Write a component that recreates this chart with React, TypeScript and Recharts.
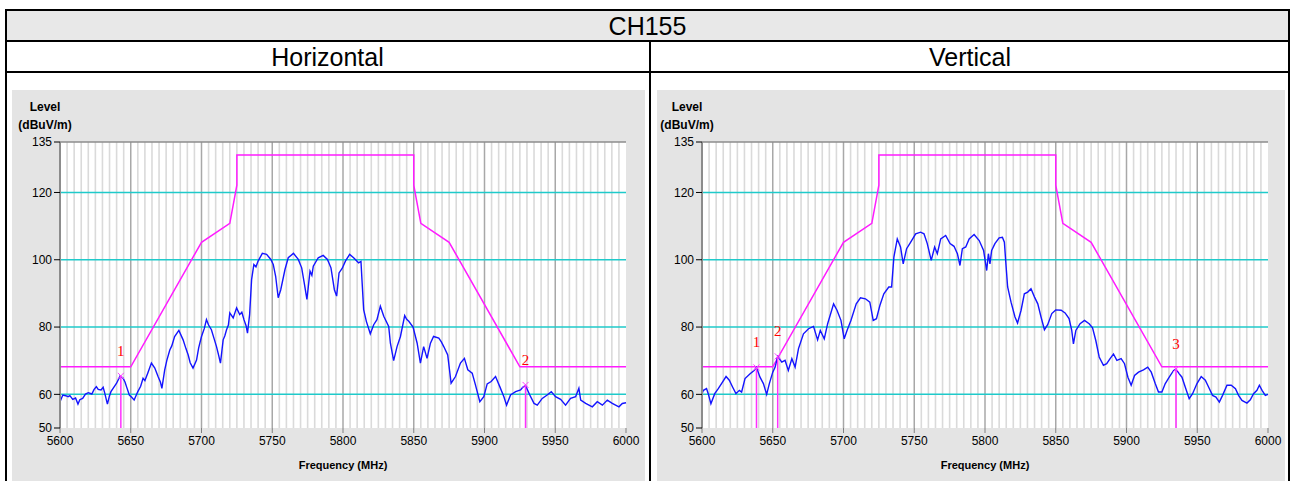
import React from "react";
import { ComposedChart, Line, XAxis, YAxis, ReferenceLine, Scatter, CartesianGrid } from "recharts";

const FONT = "Arial, 'Liberation Sans', Helvetica, sans-serif";

const freqTicks = [5600, 5650, 5700, 5750, 5800, 5850, 5900, 5950, 6000];
const levelTicks = [50, 60, 80, 100, 120, 135];
const levelGrid = [60, 80, 100, 120];

// limit mask (dBuV/m), same for both polarisations
const limitMask: [number, number][] = [
  [5600, 68.2], [5650, 68.2], [5700, 105.2], [5720, 110.8], [5725, 122.2], [5725, 131.1],
  [5850, 131.1], [5850, 122.2], [5855, 110.8], [5875, 105.2], [5925, 68.2], [6000, 68.2],
];

const horizTrace: [number, number][] = [
  [5600, 57.8], [5602, 59.8], [5604, 59.6], [5605.7, 59.3], [5607, 59.6], [5609, 58.5], [5611, 58.9], [5612.7, 57.1],
  [5614, 58.4], [5616, 58.8], [5618, 60.1], [5620, 60.5], [5622.5, 60.1], [5624, 61.4], [5625.7, 62.3], [5627, 61.5],
  [5629, 61.3], [5630.5, 62.1], [5631.5, 60.6], [5633.5, 57.1], [5635, 59.6], [5636, 60.8], [5638, 62.1], [5640, 63.3],
  [5642.5, 65.5], [5644.6, 64.8], [5646, 63.6], [5647, 62.3], [5649, 59.8], [5650.5, 59.2], [5652.4, 58.3], [5654, 59.9],
  [5655, 60.8], [5657, 62.4], [5658.7, 64.8], [5660, 64.1], [5662, 66.3], [5664.6, 69.3], [5667, 67.8], [5669.3, 65.3],
  [5671, 63.6], [5672, 61.8], [5674, 67.3], [5675.5, 70.1], [5677.6, 73.2], [5679, 74.4], [5681, 77.2], [5684, 79],
  [5687, 76.2], [5689, 73.6], [5690.6, 71.7], [5692, 69.4], [5694, 67.8], [5696.5, 70.2], [5698, 73.8], [5700, 77.2],
  [5702, 79.6], [5703.5, 82.2], [5705, 80.6], [5707, 79.2], [5709, 76.4], [5710.6, 74.2], [5712, 71.8], [5713.4, 69.3],
  [5715.3, 76.2], [5716.5, 77.4], [5717.7, 79.2], [5719, 80.6], [5720, 84.2], [5722.4, 82.7], [5724.8, 85.7], [5727, 83.7],
  [5728.5, 84.4], [5730, 82.2], [5731.5, 80.4], [5732.5, 78.2], [5734, 83.7], [5735.4, 94.1], [5737, 98.6], [5738.5, 97.9],
  [5740, 99.6], [5743, 101.9], [5746, 101.6], [5749, 100.1], [5750.7, 98.6], [5752.4, 95.1], [5754.2, 88.7], [5756, 91.1],
  [5759, 97.1], [5761.3, 100.6], [5765, 101.9], [5768.4, 100.1], [5770.8, 97.6], [5772.6, 93.1], [5774.5, 88.2], [5775.5, 92.1],
  [5776.7, 96.6], [5778, 95.4], [5779, 98.1], [5782.5, 100.6], [5786, 101.3], [5789, 100.1], [5791.5, 97.6], [5793.9, 91.1],
  [5795.5, 89.2], [5797.2, 96.1], [5799.5, 97.5], [5801.7, 99.6], [5804.7, 101.6], [5807.5, 100.6], [5811, 99.1], [5812.7, 99.5],
  [5813.4, 94.1], [5814.6, 85.2], [5816.5, 81.7], [5819.3, 78], [5821.7, 80.7], [5824, 82.2], [5826.4, 86.2], [5828.8, 83.2],
  [5832.3, 80.2], [5833.5, 75.2], [5835.8, 70], [5838.2, 74.2], [5840.6, 77.2], [5843.6, 83.4], [5845, 82.3], [5846.5, 81.7],
  [5849.5, 80], [5852.4, 75.2], [5854.7, 69.3], [5857, 74.2], [5859.4, 70.7], [5861.8, 75.2], [5864, 77.2], [5867.7, 76.7],
  [5869.5, 75.6], [5871.2, 74.2], [5874, 71.7], [5876.4, 63.3], [5879.5, 65.3], [5883, 69.3], [5885.8, 70.7], [5888.2, 67.3],
  [5891.3, 66.3], [5893.6, 62.8], [5896.7, 57.8], [5899.5, 59.3], [5901.9, 63.1], [5904.7, 63.8], [5907.8, 65.3], [5910.8, 62.3],
  [5913.7, 59.3], [5915.6, 56.8], [5918.4, 59.8], [5922, 60.8], [5925.5, 61.3], [5927, 62.1], [5929, 62.6], [5932, 59.8],
  [5935, 57.3], [5937.3, 56.8], [5940.8, 58.8], [5944.3, 59.8], [5947.2, 60.8], [5950.2, 59.3], [5953.8, 58.5], [5957.3, 56.8],
  [5960.8, 58.8], [5964.4, 59.3], [5966.7, 61.8], [5968, 58.3], [5971.5, 57.3], [5976.2, 56.3], [5979.7, 57.8], [5983.3, 56.8],
  [5986.8, 58.3], [5990.3, 57.3], [5995, 56.3], [5997.4, 57.3], [6000, 57.5],
];

const vertTrace: [number, number][] = [
  [5600, 60.2], [5601, 61.2], [5603.2, 61.7], [5604.4, 60.2], [5606.3, 57.2], [5609, 60.2], [5611.5, 61.7], [5613.8, 63.2],
  [5617, 65.3], [5619.3, 64.2], [5621.6, 62.2], [5624, 60.2], [5626.4, 61.2], [5628, 60.7], [5630.4, 64.7], [5634, 66.1],
  [5636.8, 67.1], [5638.5, 68], [5641, 65.1], [5643.4, 63.2], [5645.7, 60], [5647.6, 63.2], [5650, 66.6], [5651.7, 68.1],
  [5653.5, 71.3], [5656.4, 69.6], [5658.7, 70.1], [5661, 67.1], [5663.5, 70.6], [5665.8, 68.1], [5668.2, 73.6], [5671.7, 78],
  [5675.3, 79.5], [5678.8, 80.2], [5681.7, 76.2], [5683.6, 79], [5686.4, 76.5], [5688.8, 81], [5693, 86.9], [5695.4, 85],
  [5698.2, 82], [5700.5, 76.5], [5702.5, 79], [5705.3, 82], [5709, 86.9], [5712, 88.7], [5715.5, 88.4], [5718.6, 87.4],
  [5721, 82], [5723.3, 82.5], [5725.7, 86.4], [5728.5, 89.9], [5732, 91.9], [5734, 91.9], [5735.6, 100.8], [5738, 106.2],
  [5740.3, 103.8], [5742.2, 98.8], [5744.6, 103.3], [5747.4, 105.2], [5751, 107.7], [5754.5, 108.2], [5756.9, 107.7], [5759.2, 104.8],
  [5762, 99.8], [5764.4, 103.8], [5766.3, 101.8], [5768.7, 106.2], [5772.2, 107.2], [5775.3, 104.8], [5778.1, 104], [5780.5, 101.8],
  [5782.3, 98.3], [5784, 103.3], [5786.4, 103.8], [5788.8, 106.2], [5792.3, 107.5], [5795.9, 105.7], [5799, 102.8], [5801.2, 96.8],
  [5802.4, 101.8], [5803.5, 98.8], [5804.7, 102.8], [5807, 104.8], [5810, 106.5], [5812.3, 106.7], [5813.7, 105.2], [5814.6, 99.8],
  [5816, 91.9], [5818.4, 87.4], [5821.2, 83], [5823, 81.2], [5825.5, 85], [5827.8, 89.9], [5830.2, 90.4], [5832.5, 91.4],
  [5835, 88.9], [5837.3, 86.9], [5839.6, 83], [5842, 79.2], [5844.3, 80.7], [5847.2, 84], [5850, 85.1], [5853.8, 85],
  [5856.6, 84.2], [5859.4, 82.5], [5861.3, 79], [5862.5, 75], [5864.2, 79], [5867.2, 81], [5870.3, 82], [5873.6, 81],
  [5876, 79.8], [5878.3, 76], [5880.7, 71.1], [5883.7, 68.6], [5886, 69.1], [5888.4, 70.6], [5890.8, 72], [5893.2, 70.1],
  [5896.2, 70.6], [5898.6, 69.1], [5901, 65.1], [5903.3, 62.7], [5905.7, 65.6], [5908.5, 66.6], [5912, 67.3], [5915, 68.1],
  [5917.5, 66.6], [5920.3, 63.2], [5922.6, 60.7], [5925, 60.7], [5927.4, 63.2], [5930.2, 65.1], [5933.3, 67.1], [5935, 67.5],
  [5937.3, 66.1], [5939.2, 65.1], [5941.5, 62.2], [5944.3, 58.7], [5946.7, 60.2], [5949.8, 63.2], [5952.8, 65.3], [5955.7, 64.2],
  [5958, 62.2], [5960.8, 59.7], [5963.2, 59.2], [5965.6, 57.7], [5967.9, 59.7], [5971, 62.7], [5974, 62.7], [5977, 61.7],
  [5979.2, 59.7], [5981.6, 58.2], [5985.1, 57.4], [5987.5, 58.4], [5989.8, 60.2], [5992.2, 61.2], [5993.9, 62.7], [5995.8, 61.2],
  [5998.1, 59.7], [6000, 60],
];

const horizMarkers = [
  { f: 5643, v: 65.5, n: "1" },
  { f: 5929, v: 62.8, n: "2" },
];
const vertMarkers = [
  { f: 5638.5, v: 68, n: "1" },
  { f: 5653.5, v: 71.3, n: "2" },
  { f: 5935, v: 67.5, n: "3" },
];

// 5 MHz grid lines
const gridFreqs: number[] = [];
for (let f = 5605; f < 6000; f += 5) gridFreqs.push(f);

const toPts = (arr: [number, number][]) => arr.map(([f, v]) => ({ f, v }));

function MarkerShape(props: any) {
  const { cx = 0, cy = 0, payload } = props;
  return (
    <g>
      <path d={`M${cx - 3},${cy - 3}L${cx + 3},${cy + 3}M${cx + 3},${cy - 3}L${cx - 3},${cy + 3}`} stroke="#ff40ff" strokeWidth={1} />
      <text x={cx} y={cy - 20} textAnchor="middle" fill="#ff0000" fontSize={15}
        fontFamily="'Liberation Serif', 'Times New Roman', serif">{payload.n}</text>
    </g>
  );
}

function Panel({ left, width, marginLeft, marginRight, trace, markers }: {
  left: number; width: number; marginLeft: number; marginRight: number;
  trace: [number, number][]; markers: { f: number; v: number; n: string }[];
}) {
  const plotLeft = marginLeft + 40;
  return (
    <div style={{ position: "absolute", left, top: 90, width, height: 391, background: "#e4e4e4" }}>
      <div style={{ position: "absolute", left: plotLeft - 45, width: 60, top: 8, textAlign: "center", font: `bold 12px ${FONT}`, lineHeight: "18px" }}>
        Level<br />(dBuV/m)
      </div>
      <ComposedChart width={width} height={391} margin={{ top: 52, right: marginRight, bottom: 9, left: marginLeft }}
        style={{ fontFamily: FONT }}>
        <CartesianGrid fill="#ffffff" horizontal={false} vertical={false} />
        {gridFreqs.map(f => (
          <ReferenceLine key={f} x={f} stroke={f % 50 === 0 ? "#a8a8a8" : "#dadada"} strokeWidth={f % 50 === 0 ? 1.5 : 1.6} />
        ))}
        {levelGrid.map(y => <ReferenceLine key={y} y={y} stroke="#1fcaca" strokeWidth={1.5} />)}
        <ReferenceLine y={135} stroke="#8c8c8c" strokeWidth={1.5} />
        <XAxis type="number" dataKey="f" domain={[5600, 6000]} ticks={freqTicks} interval={0}
          axisLine={false} tickLine={{ stroke: "#808080" }} tickSize={5} tickMargin={3}
          tick={{ fontSize: 12, fill: "#000" }} height={44}
          label={{ value: "Frequency (MHz)", position: "insideBottom", offset: 3, style: { fontWeight: "bold", fontSize: 11, fill: "#000" } }} />
        <YAxis type="number" domain={[50, 135]} ticks={levelTicks} interval={0} width={40}
          axisLine={{ stroke: "#8c8c8c", strokeWidth: 2 }} tickLine={{ stroke: "#000" }} tickSize={6} tickMargin={2}
          tick={{ fontSize: 12, fill: "#000" }} />
        <Line data={toPts(limitMask)} dataKey="v" type="linear" stroke="#ff1cff" strokeWidth={1.5} dot={false} isAnimationActive={false} />
        <Line data={toPts(trace)} dataKey="v" type="linear" stroke="#1414ff" strokeWidth={1.4} dot={false} isAnimationActive={false} />
        {markers.map(m => (
          <ReferenceLine key={m.n} segment={[{ x: m.f, y: 50 }, { x: m.f, y: m.v }]} stroke="#ff30ff" strokeWidth={1.5} />
        ))}
        <Scatter data={markers} dataKey="v" shape={<MarkerShape />} isAnimationActive={false} />
      </ComposedChart>
    </div>
  );
}

export default function App() {
  const line = (s: React.CSSProperties) => <div style={{ position: "absolute", background: "#000", ...s }} />;
  return (
    <div style={{ position: "absolute", left: 0, top: 0, width: 1292, height: 481, background: "#fff", fontFamily: FONT, overflow: "hidden" }}>
      <div style={{ position: "absolute", left: 7, top: 11, width: 1281, height: 30, background: "#e8e8e8" }} />
      <div style={{ position: "absolute", left: 5, top: 10, width: 1285, height: 32, lineHeight: "32px", textAlign: "center", fontSize: 25 }}>CH155</div>
      <div style={{ position: "absolute", left: 5, top: 42, width: 645, height: 30, lineHeight: "30px", textAlign: "center", fontSize: 25 }}>Horizontal</div>
      <div style={{ position: "absolute", left: 650, top: 42, width: 640, height: 30, lineHeight: "30px", textAlign: "center", fontSize: 25 }}>Vertical</div>
      {line({ left: 5, top: 9, width: 1285, height: 2 })}
      {line({ left: 5, top: 40, width: 1285, height: 2 })}
      {line({ left: 5, top: 71, width: 1285, height: 2 })}
      {line({ left: 5, top: 9, width: 2, height: 472 })}
      {line({ left: 1288, top: 9, width: 2, height: 472 })}
      {line({ left: 649, top: 40, width: 2, height: 441 })}
      <Panel left={12} width={633} marginLeft={8} marginRight={19} trace={horizTrace} markers={horizMarkers} />
      <Panel left={657} width={628} marginLeft={5} marginRight={17} trace={vertTrace} markers={vertMarkers} />
    </div>
  );
}
